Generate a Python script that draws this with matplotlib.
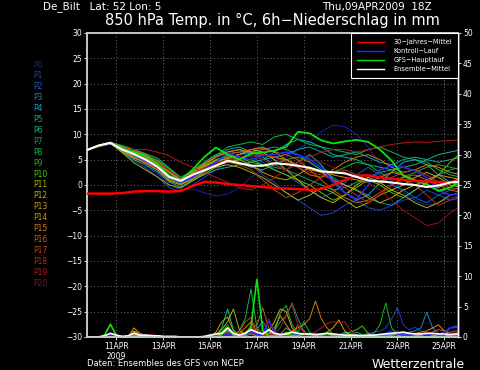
import numpy as np
import matplotlib
matplotlib.use('Agg')
import matplotlib.pyplot as plt
from matplotlib.lines import Line2D

# ---------------- data ----------------
hours12 = list(range(0, 385, 12))   # hours after 09APR2009 18Z
hours6 = list(range(0, 385, 6))

tick_hours = [30, 78, 126, 174, 222, 270, 318, 366]
tick_labels = ['11APR\n2009', '13APR', '15APR', '17APR', '19APR', '21APR', '23APR', '25APR']

member_names = ['P%d' % i for i in range(21)]
member_colors = ['#2020a8', '#2040c8', '#1060d0', '#1090c8', '#10a8c8', '#10a8a8', '#10b490',
                 '#10a470', '#10b850', '#20b020', '#50c400', '#a8b800', '#c0b400', '#c8a000',
                 '#d89000', '#d87c10', '#c86010', '#c04410', '#c02820', '#b81818', '#981010']

# 850 hPa temperature (deg C), 12-hourly
temp_P0 = [6.9,7.7,8.2,7.0,5.2,3.8,2.2,0.2,-1.0,-0.8,-1.5,-2.2,-1.8,-0.5,1.5,3.0,4.0,5.5,7.0,8.5,10.5,11.8,11.5,10.0,7.5,4.0,0.5,-1.5,-3.0,-4.0,-3.5,-2.5,-2.0]
temp_P1 = [6.9,7.6,8.3,6.5,4.8,3.4,1.6,-0.5,-1.3,0.0,1.5,3.0,4.5,5.0,4.0,2.0,0.5,-1.5,-3.0,-4.5,-6.0,-5.5,-4.0,-3.0,-4.5,-5.0,-4.0,-3.0,-2.5,-1.0,-2.0,-3.0,-2.5]
temp_P2 = [6.9,7.8,8.4,7.3,6.2,5.0,3.6,1.6,0.2,1.0,2.5,4.5,6.0,6.5,5.5,4.5,3.0,2.0,0.5,-1.0,-2.5,-1.5,0.5,2.0,3.5,2.0,0.0,-1.0,-2.5,-3.5,-2.0,-1.0,-0.5]
temp_P3 = [6.9,7.7,8.2,7.0,6.0,5.3,4.0,2.0,0.8,2.0,3.5,5.0,5.5,6.0,6.5,7.0,7.5,7.0,6.0,4.5,3.0,1.5,0.0,-1.0,-2.0,-3.5,-4.0,-2.5,-1.0,0.5,2.0,3.0,3.5]
temp_P4 = [6.9,7.8,8.3,7.6,6.8,5.8,4.8,2.6,1.0,2.5,4.0,5.5,7.0,7.5,6.5,5.5,4.0,3.0,4.5,6.0,4.0,1.0,-1.5,-3.0,-2.0,0.5,2.5,4.5,5.0,4.0,2.0,0.5,0.0]
temp_P5 = [6.9,7.6,8.1,6.6,5.0,4.0,2.6,0.6,-0.4,1.0,2.0,3.0,3.5,4.0,4.5,5.0,5.5,6.0,7.0,7.5,6.5,5.5,6.0,6.5,5.5,4.5,4.0,5.0,5.5,5.0,4.5,5.0,5.5]
temp_P6 = [6.9,7.8,8.4,7.8,7.0,6.2,5.3,3.4,1.5,2.8,4.5,6.0,6.5,7.0,6.0,5.0,6.5,8.0,9.0,8.5,7.5,6.0,5.5,5.0,4.0,3.5,3.0,3.5,4.0,5.0,6.0,6.5,7.0]
temp_P7 = [6.9,7.7,8.2,6.8,5.6,4.4,3.0,1.2,0.3,1.5,3.0,4.0,5.0,5.5,5.0,4.0,3.5,3.0,2.0,1.0,0.0,-1.0,-0.5,0.5,1.5,2.5,3.0,2.0,1.0,0.0,-1.0,-0.5,0.5]
temp_P8 = [6.9,7.8,8.3,7.4,6.5,5.6,4.4,2.6,1.2,2.6,4.2,5.8,7.5,8.0,8.5,8.0,9.5,10.0,9.0,8.0,7.5,7.0,6.5,6.0,7.0,7.5,6.5,5.5,5.0,4.5,3.0,2.0,1.5]
temp_P9 = [6.9,7.7,8.3,6.9,5.8,4.8,3.4,1.4,0.5,1.8,3.2,4.6,5.2,4.5,3.5,3.0,4.0,5.0,5.5,4.5,3.0,2.5,3.5,4.5,4.0,2.5,1.0,1.5,2.5,3.5,4.0,3.5,3.0]
temp_P10 = [6.9,7.8,8.4,7.5,6.6,5.9,4.9,3.2,1.4,2.4,3.8,5.0,5.8,5.5,4.5,4.0,3.0,2.0,1.0,0.0,-1.5,-3.0,-2.0,-0.5,1.0,0.0,-1.5,-2.5,-1.0,0.5,2.0,4.5,6.5]
temp_P11 = [6.9,7.6,8.2,6.4,4.4,3.0,1.6,0.0,-0.6,0.8,2.2,3.5,4.0,3.5,2.5,1.5,0.0,-1.5,-3.0,-2.0,-0.5,-1.5,-3.0,-4.5,-3.5,-2.0,-1.0,-2.0,-3.5,-4.5,-3.5,-2.0,-1.5]
temp_P12 = [6.9,7.7,8.3,7.1,6.2,5.2,3.9,2.0,0.9,2.2,3.6,4.8,5.2,6.0,7.0,6.5,5.0,3.0,1.0,-1.0,-2.5,-3.5,-2.0,0.0,1.5,0.5,-1.0,0.0,1.5,2.5,1.5,0.0,-0.5]
temp_P13 = [6.9,7.8,8.2,6.7,5.3,4.4,3.0,0.8,0.0,1.2,2.6,3.8,4.5,5.0,4.0,2.5,1.5,1.0,2.0,3.5,2.5,1.0,0.0,-1.0,-2.5,-3.5,-2.5,-1.0,0.0,1.0,2.0,1.5,1.0]
temp_P14 = [6.9,7.7,8.3,7.3,6.4,5.5,4.2,2.4,1.0,2.5,4.0,5.5,6.5,7.0,6.5,6.0,5.5,5.0,4.0,3.0,2.5,2.0,1.5,1.0,0.5,1.5,2.5,2.0,1.0,0.0,-0.5,0.5,1.5]
temp_P15 = [6.9,7.6,8.1,6.8,5.5,4.3,3.0,1.0,0.2,1.4,2.8,4.2,5.5,6.0,7.0,7.5,6.5,5.0,3.5,2.0,1.5,3.0,4.5,5.5,6.0,5.0,3.5,2.5,3.0,4.0,3.5,2.5,2.0]
temp_P16 = [6.9,7.8,8.4,7.6,6.9,6.0,4.7,2.8,1.3,2.8,4.3,5.7,6.2,6.5,7.0,7.2,6.5,6.0,5.0,3.0,1.0,-1.0,-2.5,-3.5,-3.0,-1.5,0.0,1.5,2.0,1.0,0.0,-1.0,-1.5]
temp_P17 = [6.9,7.7,8.2,7.0,5.9,4.6,3.2,1.5,0.6,1.6,3.0,4.0,4.5,4.0,3.0,1.0,-1.0,-2.5,-1.5,0.0,1.5,2.5,3.0,2.0,1.0,0.5,1.5,2.5,3.0,2.0,0.5,-0.5,-1.0]
temp_P18 = [6.9,7.8,8.3,7.4,6.6,5.7,4.5,2.8,1.4,2.2,3.4,4.4,4.8,5.2,5.8,6.0,5.5,4.5,3.5,2.5,2.0,1.0,-0.5,-2.0,-3.5,-2.0,0.0,1.0,0.0,-2.0,-4.0,-3.0,-2.0]
temp_P19 = [6.9,7.6,8.2,7.2,7.0,7.0,6.5,5.8,4.5,3.5,2.5,1.5,0.5,-0.5,-1.0,0.0,1.5,3.0,4.5,5.5,6.5,7.0,7.0,6.5,7.0,7.5,8.0,8.3,8.5,8.4,8.6,8.8,8.9]
temp_P20 = [6.9,7.7,8.3,7.1,6.3,5.0,3.8,2.1,0.8,1.8,3.0,4.2,5.0,5.5,6.0,5.0,4.0,3.0,4.0,5.0,4.5,3.5,2.5,1.5,0.5,-1.0,-3.0,-5.0,-6.5,-8.0,-7.5,-5.5,-4.0]
temp_members = [temp_P0, temp_P1, temp_P2, temp_P3, temp_P4, temp_P5, temp_P6, temp_P7, temp_P8,
                temp_P9, temp_P10, temp_P11, temp_P12, temp_P13, temp_P14, temp_P15, temp_P16,
                temp_P17, temp_P18, temp_P19, temp_P20]

temp_clim = [-1.7,-1.7,-1.7,-1.6,-1.3,-1.2,-1.2,-1.3,-1.2,-0.2,0.6,0.5,0.2,0.0,-0.2,-0.4,-0.6,-0.7,-0.8,-1.0,-0.8,0.0,1.0,1.8,1.9,1.5,1.2,1.0,0.8,0.7,0.6,0.6,0.6]
temp_ctrl = [6.9,7.8,8.2,7.0,6.0,4.8,3.5,1.5,0.5,1.5,3.0,4.5,6.3,5.5,5.0,5.8,6.0,6.5,6.0,5.0,3.5,0.5,-1.5,-2.8,0.0,3.0,3.8,3.5,2.8,1.5,-1.0,-2.0,-1.5]
temp_gfs = [6.9,7.8,8.4,7.3,6.5,5.8,4.2,1.8,1.0,3.0,5.5,7.4,6.0,5.0,6.2,6.4,6.8,7.5,10.5,10.2,8.8,8.2,8.6,8.9,8.5,7.0,4.8,1.8,0.8,0.2,-1.2,-0.5,1.0]
temp_mean = [6.9,7.8,8.3,7.0,6.1,5.0,3.6,1.6,0.8,2.0,2.9,3.8,4.8,4.3,3.8,3.8,4.3,4.1,3.8,3.4,2.7,2.5,2.3,1.6,0.9,0.7,0.5,0.2,0.0,-0.4,-0.1,0.5,0.7]

# 6h precipitation (mm), 6-hourly
prec_P0 = [0,0,0,0,0.2,0.1,0,0, 0.3,0.2,0.1,0,0,0,0,0, 0,0,0,0,0,0,0,0, 0.5,0.2,0,0.3,0.6,0.2,0,0.4, 0.3,0,0,0.2,0.1,0,0,0, 0,0,0.2,0.3,0.1,0,0,0, 0,0,0.2,0.6,1.2,0.8,0.4,0.2, 0.2,0.3,0.4,0.2,0.5,0.8,1.5,1.8, 1.5]
prec_P1 = [0,0,0,0,0.3,0.2,0,0, 0.4,0.3,0.2,0.1,0,0,0,0, 0,0,0,0,0,0,0,0, 0.3,0.1,0,0.2,0.4,0.1,0,0, 0,0,0.1,0.2,0,0,0,0, 0,0,0,0,0,0,0.2,0.4, 0.6,0.8,1.0,1.5,3.0,4.8,2.0,1.2, 1.6,1.0,0.5,0.3,0.2,0.4,0.8,1.0, 0.6]
prec_P2 = [0,0,0,0,0.2,0.1,0,0, 0.6,0.4,0.3,0.2,0.1,0,0,0, 0,0,0,0,0,0,0.2,0.5, 0.8,0.2,0,0.3,0.5,0.2,0.1,0.3, 0.2,0,0,0.1,0,0,0,0, 0,0,0,0,0,0,0,0, 0,0.2,0.4,0.3,0.2,0.5,0.8,0.4, 0.3,0.2,0.1,0.2,0.3,0.2,1.5,1.8, 1.2]
prec_P3 = [0,0,0,0,0.1,0.1,0,0, 0.4,0.2,0.2,0.1,0,0,0,0, 0,0,0,0,0,0,0,0.2, 0.6,0.3,0.2,0.5,0.9,0.4,0.2,0.6, 0.3,0.1,0,0,0,0,0,0, 0,0,0,0,0,0,0,0, 0,0,0,0,0.4,0.6,0.5,0.8, 1.0,1.5,4.1,1.5,0.6,0.3,0.2,0.4, 0.3]
prec_P4 = [0,0,0,0,0.3,0.2,0,0, 0.5,0.3,0.2,0.1,0,0,0,0, 0,0,0,0,0,0,0,0.3, 0.7,0.3,0.2,0.6,1.0,1.2,2.6,0.8, 0.4,0.2,0.2,0.3,0.1,0,0,0, 0,0,0,0,0,0,0,0, 0,0,0.1,0.3,0.5,0.4,0.2,0.1, 0,0,0,0,0,0,0,0, 0]
prec_P5 = [0,0,0,0,0.2,0.1,0,0, 0.3,0.2,0.3,0.2,0.1,0,0,0, 0,0,0,0,0,0,0.1,0.4, 1.2,0.5,0.1,0.2,0.5,0.3,0.2,0.4, 0.3,0.2,0.3,0.6,0.4,0.2,0.1,0, 0,0,0,0,0,0.3,0.8,0.4, 0.2,0,0,0,0,0,0,0, 0,0,0,0,0,0,0,0, 0]
prec_P6 = [0,0,0,0,0.4,0.2,0,0, 0.6,0.3,0.2,0.2,0.1,0,0,0, 0,0,0,0,0,0,0.3,1.5, 4.6,1.2,0.2,0.5,1.0,0.4,0.2,0.3, 0.2,0.5,1.5,0.8,0.3,0.1,0,0, 0,0,0,0.3,0.8,0.4,0.1,0, 0,0,0,0,0,0,0,0, 0,0,0,0,0,0,0,0, 0]
prec_P7 = [0,0,0,0,0.3,0.1,0,0, 0.5,0.2,0.2,0.1,0,0,0,0, 0,0,0,0,0,0,0,0.2, 0.8,0.3,0.2,0.4,0.8,0.3,0.2,0.5, 1.0,2.5,3.5,5.6,3.0,1.0,0.3,0.1, 0,0,0,0,0,0,0,0, 0,0.2,0.5,0.3,0.2,0.1,0,0, 0,0,0,0,0,0,0,0, 0]
prec_P8 = [0,0,0,0,0.3,0.2,0,0, 0.4,0.3,0.2,0.1,0,0,0,0, 0,0,0,0,0,0,0,0.3, 1.0,0.4,1.0,3.0,7.9,1.5,0.3,0.5, 0.8,4.0,5.2,2.0,0.8,2.5,0.8,0.2, 0.1,0,0,0,0,0,0,0, 0,0,0,0,0,0,0,0, 0,0,0,0,0,0,0,0, 0]
prec_P9 = [0,0,0,0,0.2,0.1,0,0, 0.5,0.2,0.1,0.1,0,0,0,0, 0,0,0,0,0,0,0.2,0.8, 2.0,0.5,0.2,0.3,0.6,0.2,0.1,0.3, 0.2,0.1,0.2,0.3,0.2,0.1,0,0, 0,0,0,0,0,0,0.2,0.4, 0.3,0.6,2.0,5.6,1.5,0.4,0.2,0.1, 0,0,0,0,0,0,0,0, 0]
prec_P10 = [0,0,0,0,0.3,0.2,0,0, 0.5,0.3,0.2,0.1,0.1,0,0,0, 0,0,0,0,0,0,0,0.2, 0.6,0.3,0.2,0.4,0.7,0.3,0.2,0.4, 0.3,0.2,0.3,0.5,0.4,0.2,0.1,0.2, 0.3,0.2,0.1,0.3,0.5,0.8,1.2,1.8, 0.6,0.2,0.1,0,0,0,0,0, 0,0,0,0,0,0,0,0, 0]
prec_P11 = [0,0,0,0,0.2,0.1,0,0, 0.8,0.4,0.2,0.1,0,0,0,0, 0,0,0,0,0,0,0.3,1.2, 2.5,4.6,1.2,0.3,0.6,0.2,0.1,0.3, 0.2,0.3,0.8,0.4,0.2,0.1,0,0, 0,0,0,0,0,0,0,0, 0,0,0,0,0,0.2,0.4,0.3, 0.2,0.3,0.5,0.4,0.2,0.1,0,0, 0]
prec_P12 = [0,0,0,0,0.2,0.2,0,0, 1.0,0.5,0.3,0.2,0.1,0,0,0, 0,0,0,0,0,0,0.2,0.6, 1.5,0.5,0.3,0.8,1.5,0.6,0.3,1.0, 2.5,4.6,4.2,1.5,0.5,0.2,0.1,0, 0.2,0.8,1.5,2.8,1.0,0.3,0.1,0, 0,0,0,0,0,0,0,0, 0,0,0,0.2,0.4,0.3,0.2,0.1, 0]
prec_P13 = [0,0,0,0,0.3,0.2,0,0, 1.5,0.6,0.3,0.2,0.1,0,0,0, 0,0,0,0,0,0,0.8,2.5, 3.3,1.0,0.3,0.5,1.2,0.4,0.2,0.6, 1.5,3.5,2.0,0.6,0.2,0.1,0,0, 0,0,0,0,0,0,0,0, 0,0,0,0,0,0,0,0, 0.2,0.4,0.6,0.5,0.3,0.2,0.1,0, 0]
prec_P14 = [0,0,0,0,0.2,0.1,0,0, 0.8,0.4,0.2,0.1,0,0,0,0, 0,0,0,0,0,0,0.2,0.5, 1.0,0.4,0.5,1.5,2.5,0.8,0.3,0.5, 0.4,0.3,0.2,0.4,0.6,0.3,0.1,0, 0,0,0,0,0,0,0,0, 0,0,0,0,0.3,0.5,0.8,0.6, 0.6,0.8,1.0,1.5,2.0,1.0,0.5,0.2, 0.1]
prec_P15 = [0,0,0,0,0.2,0.2,0,0, 0.9,0.5,0.3,0.2,0.1,0,0,0, 0,0,0,0,0,0,0.2,0.4, 0.8,0.3,0.2,0.5,1.0,0.4,0.3,0.6, 0.5,0.3,0.5,1.0,1.5,2.0,3.0,5.9, 3.0,1.5,0.4,0.2,0.1,0,0,0, 0,0,0,0,0,0,0,0, 0,0,0,0,0,0,0,0, 0]
prec_P16 = [0,0,0,0,0.3,0.2,0,0, 0.7,0.4,0.3,0.2,0.1,0,0,0, 0,0,0,0,0,0,0.1,0.3, 0.7,0.3,0.2,0.6,1.5,2.0,4.8,1.5, 0.6,0.3,0.2,0.3,2.0,0.8,0.3,0.1, 0,0,0,0,0,0,0,0, 0,0,0,0,0,0,0,0, 0,0.2,0.5,0.8,1.2,1.0,0.6,0.3, 0.2]
prec_P17 = [0,0,0,0,0.2,0.1,0,0, 0.5,0.4,0.2,0.3,0.2,0.1,0,0, 0,0,0,0,0,0,0.1,0.4, 0.9,0.5,0.8,2.5,3.2,0.8,0.3,0.5, 0.4,0.3,0.4,0.6,0.4,0.2,0.1,0, 0,0,0,0,0,0,0,0, 0,0,0,0,0,0,0,0, 0,0,0,0,0,0,0,0, 0]
prec_P18 = [0,0,0,0,0.3,0.2,0,0, 0.6,0.3,0.3,0.4,0.2,0.1,0,0, 0,0,0,0,0,0,0.2,0.5, 0.8,0.4,0.3,0.8,1.2,1.5,0.6,0.4, 0.3,0.2,0.3,0.4,0.2,0.1,0,0, 0,0,0,0,0,0,0,0, 0,0,0,0,0,0,0,0, 0,0,0,0,0,0.3,0.8,1.0, 0.8]
prec_P19 = [0,0,0,0,0.2,0.1,0,0, 0.4,0.3,0.2,0.2,0.1,0,0,0, 0,0,0,0,0,0,0,0.2, 0.5,0.3,0.2,0.3,0.6,0.3,0.2,0.4, 0.5,1.5,3.5,5.3,2.0,0.8,0.5,0.8, 1.5,2.2,2.5,2.4,2.5,1.0,0.3,0.1, 0,0,0,0,0,0,0,0, 0,0,0,0,0,0,0,0, 0]
prec_P20 = [0,0,0,0,0.2,0.1,0,0, 0.5,0.3,0.2,0.1,0,0,0,0, 0,0,0,0,0,0,0.1,0.3, 0.6,0.3,0.2,0.5,1.0,0.6,1.5,3.0, 1.0,0.4,0.2,0.3,0.2,0.1,0,0, 0,0,0,0,0,0,0,0, 0,0,0,0,0,0,0,0.2, 0.4,0.6,0.8,0.5,0.3,0.4,0.6,0.8, 0.5]
prec_members = [prec_P0, prec_P1, prec_P2, prec_P3, prec_P4, prec_P5, prec_P6, prec_P7, prec_P8,
                prec_P9, prec_P10, prec_P11, prec_P12, prec_P13, prec_P14, prec_P15, prec_P16,
                prec_P17, prec_P18, prec_P19, prec_P20]

prec_ctrl = [0,0,0,0,0.4,0.2,0,0, 0.5,0.2,0.3,0.2,0.1,0,0,0, 0,0,0,0,0,0,0.1,0.2, 0.5,0.3,0.2,0.4,0.8,0.4,0.5,2.6, 0.8,0.3,0.4,0.6,0.3,0.2,0.3,0.5, 0.3,0.2,0.1,0.2,0.3,0.1,0,0, 0.2,0.3,0.4,0.6,0.8,0.5,0.3,0.4, 0.6,0.5,0.3,0.6,0.4,0.8,1.5,1.6, 1.2]
prec_gfs = [0,0,0,0.3,2.1,0.3,0,0, 0.3,0.2,0.1,0.1,0,0,0,0, 0,0,0,0,0,0,0,0.4, 1.5,0.3,0.1,0.3,1.8,9.5,1.0,0.2, 0.2,0.3,0.4,0.3,0.2,0.5,0.4,0.3, 0.3,0.6,0.2,0.1,0.1,0.2,0.1,0.1, 0,0,0,0,0,0,0,0, 0,0,0,0,0,0,0,0, 0]
prec_mean = [0,0,0,0.2,0.6,0.3,0.1,0.2, 0.6,0.3,0.3,0.2,0.2,0.1,0.1,0.1, 0,0,0,0,0.1,0.3,0.5,0.6, 1.5,0.6,0.3,0.6,1.2,0.8,0.5,1.2, 0.6,0.4,0.5,0.8,0.6,0.5,0.5,0.4, 0.5,0.6,0.5,0.4,0.3,0.3,0.3,0.2, 0.3,0.3,0.4,0.5,0.6,0.7,0.8,0.6, 0.5,0.5,0.6,0.6,0.5,0.5,0.4,0.5, 0.5]

# ---------------- figure ----------------
W, H = 480, 370
fig = plt.figure(figsize=(4.8, 3.7), dpi=100, facecolor='black')
ax = fig.add_axes([87 / W, 1 - 337 / H, (458 - 87) / W, (337 - 33) / H])
ax.set_facecolor('black')
ax2 = ax.twinx()

grey = '#c8c8c8'
fs = 5.5

# precipitation (right axis)
for vals, col in zip(prec_members, member_colors):
    ax2.plot(hours6, vals, color=col, lw=0.7, zorder=2)
ax2.plot(hours6, prec_ctrl, color='#2828ff', lw=1.1, zorder=3)
ax2.plot(hours6, prec_gfs, color='#10e010', lw=1.2, zorder=3)
ax2.plot(hours6, prec_mean, color='white', lw=1.2, zorder=4)

# temperature (left axis)
for vals, col in zip(temp_members, member_colors):
    ax.plot(hours12, vals, color=col, lw=0.7, zorder=2)
ax.plot(hours12, temp_ctrl, color='#2828ff', lw=1.1, zorder=3)
ax.plot(hours12, temp_gfs, color='#10e010', lw=1.3, zorder=3)
ax.plot(hours12, temp_clim, color='#ff0000', lw=1.8, zorder=4)
ax.plot(hours12, temp_mean, color='white', lw=1.5, zorder=5)

# put temperature axis on top of precip axis
ax.set_zorder(ax2.get_zorder() + 1)
ax.patch.set_visible(False)
ax2.set_facecolor('black')
ax2.patch.set_visible(True)

ax.set_xlim(0, 380)
ax.set_ylim(-30, 30)
ax2.set_ylim(0, 50)

ax.set_yticks(range(-30, 31, 5))
ax.set_yticklabels([str(v) if v >= 0 else '\u2212' + str(-v) for v in range(-30, 31, 5)])
ax2.set_yticks(range(0, 51, 5))
ax.set_xticks(tick_hours)
ax.set_xticklabels(tick_labels)

ax.grid(True, color='#909090', ls=(0, (1, 3)), lw=0.6)
ax.tick_params(axis='both', colors='white', labelsize=fs, length=2, width=0.6, pad=1.5)
ax2.tick_params(axis='y', colors='white', labelsize=fs, length=2, width=0.6, pad=1.5)
for a in (ax, ax2):
    for side in ('left', 'top', 'bottom'):
        a.spines[side].set_color(grey)
        a.spines[side].set_linewidth(1.2)
    a.spines['right'].set_color('white')
    a.spines['right'].set_linewidth(1.0)

# legend
handles = [Line2D([], [], color='#ff0000', lw=1.0), Line2D([], [], color='#2828ff', lw=1.0),
           Line2D([], [], color='#10e010', lw=1.0), Line2D([], [], color='white', lw=1.0)]
labels = ['30\u2212Jahres\u2212Mittel', 'Kontroll\u2212Lauf', 'GFS\u2212Hauptlauf', 'Ensemble\u2212Mittel']
leg = ax.legend(handles, labels, loc='upper right', bbox_to_anchor=(1, 1), borderaxespad=0,
                fancybox=False, facecolor='black', edgecolor='white', framealpha=1,
                fontsize=4.8, labelcolor='white', handlelength=4.0, handletextpad=1.4,
                borderpad=0.9, labelspacing=0.45)
leg.get_frame().set_linewidth(0.8)
leg.set_zorder(10)

# member labels on the left
for i, (name, col) in enumerate(zip(member_names, member_colors)):
    fig.text(33 / W, 1 - (65 + 10.9 * i) / H, name, color=col, fontsize=fs, va='center', ha='left')

# header / footer texts
fig.text(43 / W, 1 - 7 / H, 'De_Bilt   Lat: 52 Lon: 5', color='white', fontsize=7.5, va='center', ha='left')
fig.text(432 / W, 1 - 7 / H, 'Thu,09APR2009  18Z', color='white', fontsize=7.5, va='center', ha='right')
fig.text(272 / W, 1 - 20 / H, '850 hPa Temp. in \u00b0C, 6h\u2212Niederschlag in mm', color='white',
         fontsize=10.5, va='center', ha='center')
fig.text(87 / W, 1 - 364 / H, 'Daten: Ensembles des GFS von NCEP', color='white', fontsize=6,
         va='center', ha='left')
fig.text(465 / W, 1 - 364 / H, 'Wetterzentrale', color='white', fontsize=9, va='center', ha='right')

fig.savefig('out.png', dpi=100, facecolor='black')
